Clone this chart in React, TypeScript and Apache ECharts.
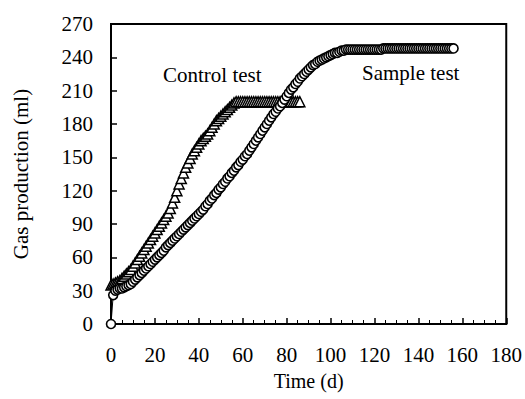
import React, { useEffect, useRef } from "react";
import * as echarts from "echarts";

const sampleDays: number[] = Array.from({ length: 157 }, (_, i) => i);
const sampleValues: number[] = [
  0, 26, 30, 31, 32, 32, 33, 34, 35, 36,
  38, 40, 42, 44, 46, 48, 50, 52, 54, 56,
  58, 60, 62, 64, 66, 69, 71, 73, 75, 77,
  79, 81, 83, 85, 87, 89, 91, 93, 95, 97,
  99, 101, 103, 106, 108, 111, 113, 116, 118, 121,
  123, 126, 128, 131, 133, 136, 138, 141, 143, 146,
  148, 151, 153, 156, 159, 162, 165, 168, 171, 174,
  177, 180, 183, 186, 189, 191, 194, 196, 199, 202,
  205, 208, 211, 213, 216, 218, 221, 223, 225, 227,
  229, 231, 233, 234, 236, 237, 238, 239, 240, 241,
  242, 243, 244, 244, 245, 246, 246, 247, 247, 247,
  247, 247, 247, 247, 247, 247, 247, 247, 247, 247,
  247, 247, 247, 247, 248, 248, 248, 248, 248, 248,
  248, 248, 248, 248, 248, 248, 248, 248, 248, 248,
  248, 248, 248, 248, 248, 248, 248, 248, 248, 248,
  248, 248, 248, 248, 248, 248, 248,
];

const controlDays: number[] = Array.from({ length: 87 }, (_, i) => i);
const controlValues: number[] = [
  35, 36, 37, 38, 39, 41, 43, 45, 47, 49,
  52, 55, 58, 61, 64, 67, 70, 73, 76, 79,
  82, 85, 88, 91, 94, 97, 100, 104, 109, 114,
  120, 126, 131, 136, 141, 145, 149, 153, 156, 159,
  162, 165, 167, 169, 171, 174, 177, 180, 183, 185,
  187, 189, 191, 193, 195, 197, 199, 200, 200, 200,
  200, 200, 200, 200, 200, 200, 200, 200, 200, 200,
  200, 200, 200, 200, 200, 200, 200, 200, 200, 200,
  200, 200, 200, 200, 200, 200, 200,
];

const xTicks = { min: 0, max: 180, interval: 20 };
const yTicks = { min: 0, max: 270, interval: 30 };
const xTitle = "Time (d)";
const yTitle = "Gas production (ml)";
const controlLabel = "Control test";
const sampleLabel = "Sample test";

const FONT = "'Liberation Serif', 'Times New Roman', serif";

export default function App() {
  const ref = useRef<HTMLDivElement>(null);
  useEffect(() => {
    if (!ref.current) return;
    const chart = echarts.init(ref.current, null, { renderer: "svg" });
    const pair = (xs: number[], ys: number[]) => xs.map((x, i) => [x, ys[i]]);
    chart.setOption({
      animation: false,
      backgroundColor: "#fff",
      grid: {
        left: 111,
        top: 24,
        right: 18,
        bottom: 75,
        show: true,
        borderColor: "#000",
        borderWidth: 2,
      },
      xAxis: {
        type: "value",
        min: xTicks.min,
        max: xTicks.max,
        interval: xTicks.interval,
        name: xTitle,
        nameLocation: "middle",
        nameGap: 47,
        nameTextStyle: { fontFamily: FONT, fontSize: 20, color: "#000" },
        axisLine: { show: true, onZero: false, lineStyle: { color: "#000", width: 2 } },
        axisTick: { show: true, inside: true, length: 6, lineStyle: { color: "#000", width: 1.5 } },
        minorTick: { show: true, splitNumber: 4, length: 4, lineStyle: { color: "#000", width: 1 } },
        axisLabel: { fontFamily: FONT, fontSize: 21, color: "#000", margin: 20 },
        splitLine: { show: false },
      },
      yAxis: {
        type: "value",
        min: yTicks.min,
        max: yTicks.max,
        interval: yTicks.interval,
        name: yTitle,
        nameLocation: "middle",
        nameGap: 80,
        nameRotate: 90,
        nameTextStyle: { fontFamily: FONT, fontSize: 21, color: "#000" },
        axisLine: { show: true, onZero: false, lineStyle: { color: "#000", width: 2 } },
        axisTick: { show: true, inside: true, length: 6, lineStyle: { color: "#000", width: 1.5 } },
        axisLabel: { fontFamily: FONT, fontSize: 21, color: "#000", margin: 18 },
        splitLine: { show: false },
      },
      series: [
        {
          name: controlLabel,
          type: "line",
          data: pair(controlDays, controlValues),
          symbol: "triangle",
          symbolSize: 10,
          showAllSymbol: true,
          lineStyle: { color: "#000", width: 1 },
          itemStyle: { color: "#fff", borderColor: "#000", borderWidth: 1.5 },
          z: 2,
        },
        {
          name: sampleLabel,
          type: "line",
          data: pair(sampleDays, sampleValues),
          symbol: "circle",
          symbolSize: 9,
          showAllSymbol: true,
          lineStyle: { color: "#000", width: 1 },
          itemStyle: { color: "#fff", borderColor: "#000", borderWidth: 1.6 },
          z: 3,
        },
      ],
      graphic: [
        {
          type: "text",
          left: 163,
          top: 64,
          style: { text: controlLabel, font: `21px ${FONT}`, fill: "#000" },
        },
        {
          type: "text",
          left: 362,
          top: 62,
          style: { text: sampleLabel, font: `21px ${FONT}`, fill: "#000" },
        },
      ],
    });
    return () => chart.dispose();
  }, []);
  return (
    <div
      ref={ref}
      style={{ position: "absolute", left: 0, top: 0, width: 525, height: 399 }}
    />
  );
}
